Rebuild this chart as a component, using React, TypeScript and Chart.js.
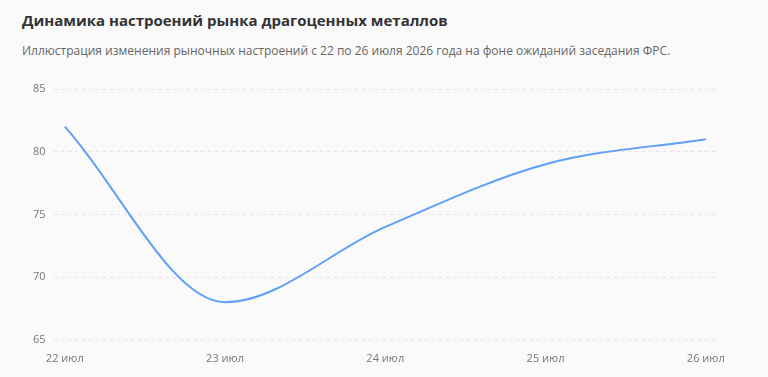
import React, { useEffect, useRef } from "react";
import { Chart, registerables } from "chart.js";

Chart.register(...registerables);

const categories = ["22 июл", "23 июл", "24 июл", "25 июл", "26 июл"];
const sentiment = [82, 68, 74, 79, 81];
const yTicks = [65, 70, 75, 80, 85];

const FONT = "'Open Sans', 'Noto Sans', sans-serif";

export default function App() {
  const ref = useRef<HTMLCanvasElement | null>(null);

  useEffect(() => {
    document.body.style.margin = "0";
    const canvas = ref.current;
    if (!canvas) return;
    const chart = new Chart(canvas, {
      type: "line",
      data: {
        datasets: [
          {
            label: "Настроение",
            data: sentiment.map((v, i) => ({ x: i, y: v })),
            borderColor: "#5e9ff7",
            borderWidth: 2,
            pointRadius: 0,
            fill: false,
            cubicInterpolationMode: "monotone",
          },
        ],
      },
      options: {
        animation: false,
        responsive: false,
        maintainAspectRatio: false,
        layout: { padding: { top: 19, left: 25, right: 51, bottom: 8 } },
        plugins: { legend: { display: false }, tooltip: { enabled: false } },
        scales: {
          x: {
            type: "linear",
            min: -0.07,
            max: 4.07,
            afterBuildTicks: (axis: any) => {
              axis.ticks = categories.map((_, i) => ({ value: i }));
            },
            ticks: {
              callback: (v: any) => categories[Math.round(Number(v))] ?? "",
              color: "#777",
              font: { family: FONT, size: 11 },
              maxRotation: 0,
              padding: 4,
            },
            grid: { display: false },
            border: { display: false },
          },
          y: {
            min: 65,
            max: 85,
            afterBuildTicks: (axis: any) => {
              axis.ticks = yTicks.map((v) => ({ value: v }));
            },
            ticks: {
              color: "#777",
              font: { family: FONT, size: 11 },
              padding: 8,
            },
            grid: { color: "#e4e4e4", drawTicks: false },
            border: { display: false, dash: [3, 4] },
          },
        },
      },
    });
    return () => chart.destroy();
  }, []);

  return (
    <div
      style={{
        position: "fixed",
        left: 0,
        top: 0,
        width: 768,
        height: 377,
        background: "#fafafa",
        fontFamily: FONT,
      }}
    >
      <div
        style={{
          position: "absolute",
          left: 22,
          top: 10,
          fontSize: 15,
          fontWeight: 700,
          color: "#333",
          whiteSpace: "nowrap",
        }}
      >
        Динамика настроений рынка драгоценных металлов
      </div>
      <div
        style={{
          position: "absolute",
          left: 22,
          top: 42,
          fontSize: 12,
          color: "#666",
          whiteSpace: "nowrap",
        }}
      >
        Иллюстрация изменения рыночных настроений с 22 по 26 июля 2026 года на фоне ожиданий заседания ФРС.
      </div>
      <canvas
        ref={ref}
        width={768}
        height={307}
        style={{ position: "absolute", left: 0, top: 70, width: 768, height: 307 }}
      />
    </div>
  );
}
